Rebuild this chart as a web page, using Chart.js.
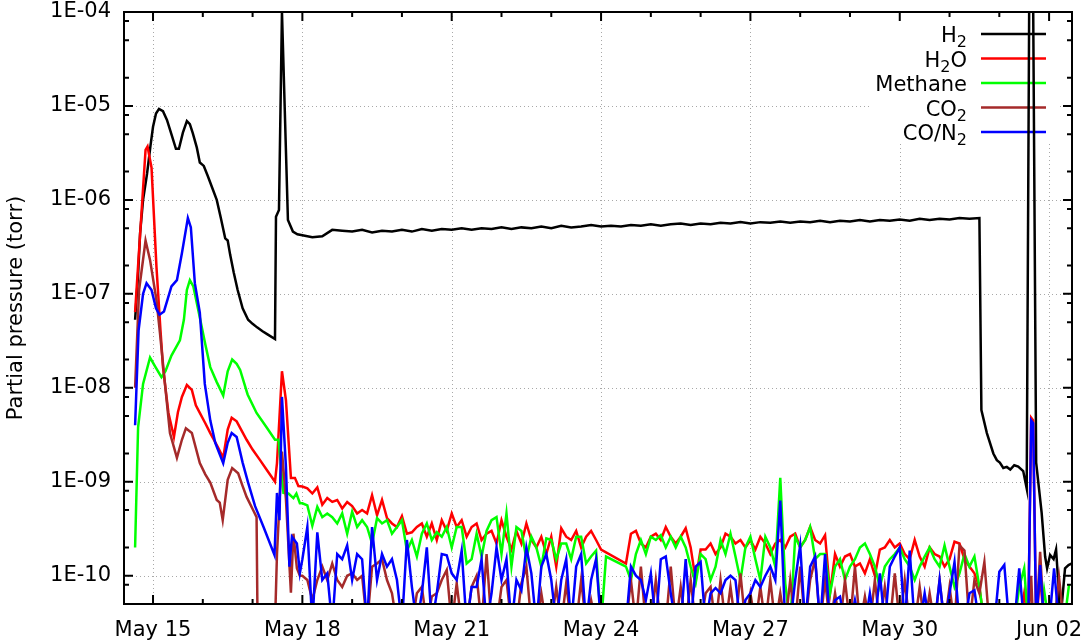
<!DOCTYPE html>
<html>
<head>
<meta charset="utf-8">
<script src="https://cdn.jsdelivr.net/npm/chart.js@4/dist/chart.umd.min.js"></script>
<style>
  html, body { margin: 0; padding: 0; background: #fff; }
</style>
</head>
<body>
<canvas id="chart" width="1088" height="644"></canvas>
<script>
// Days are counted from May 15 00:00
const xTickDays = [0, 3, 6, 9, 12, 15, 18];
const xTickLabels = ['May 15', 'May 18', 'May 21', 'May 24', 'May 27', 'May 30', 'Jun 02'];
const yTickValues = [1e-10, 1e-9, 1e-8, 1e-7, 1e-6, 1e-5, 1e-4];
const yTickLabels = ['1E-10', '1E-09', '1E-08', '1E-07', '1E-06', '1E-05', '1E-04'];
const yMinorSteps = [2, 5, 8];

const legendLabels = ['H_2', 'H_2O', 'Methane', 'CO_2', 'CO/N_2'];
const seriesColors = ['#000000', '#ff0000', '#00ff00', '#a52a2a', '#0000ff'];

// --- pump-down / bake-out (torr) ---
const h2EarlyDays = [-0.36, -0.3, -0.26, -0.2, -0.12, -0.05, 0.0, 0.06, 0.12, 0.2, 0.28, 0.38, 0.46, 0.52, 0.6, 0.68, 0.74, 0.8, 0.88, 0.94, 1.02, 1.1, 1.2, 1.28, 1.36, 1.45, 1.5, 1.55, 1.62, 1.7, 1.8, 1.91, 2.0, 2.09, 2.2, 2.3, 2.45, 2.47, 2.53, 2.59, 2.71, 2.81, 2.9];
const h2EarlyValues = [5.3e-8, 1.6e-7, 4.4e-7, 1.0e-6, 1.9e-6, 3.8e-6, 6.0e-6, 8.3e-6, 9.3e-6, 8.8e-6, 7.1e-6, 4.8e-6, 3.5e-6, 3.5e-6, 5.2e-6, 6.9e-6, 6.4e-6, 5.1e-6, 3.6e-6, 2.5e-6, 2.3e-6, 1.8e-6, 1.3e-6, 1.0e-6, 6.5e-7, 3.9e-7, 3.7e-7, 2.6e-7, 1.7e-7, 1.1e-7, 7.0e-8, 5.3e-8, 4.8e-8, 4.4e-8, 4.0e-8, 3.7e-8, 3.3e-8, 6.6e-7, 7.8e-7, 1.0e-4, 6.1e-7, 4.6e-7, 4.3e-7];

const h2oEarlyDays = [-0.36, -0.15, -0.11, -0.03, 0.07, 0.15, 0.2, 0.31, 0.42, 0.5, 0.58, 0.68, 0.78, 0.86, 0.94, 1.05, 1.15, 1.31, 1.41, 1.5, 1.58, 1.68, 1.78, 1.88, 2.0, 2.15, 2.3, 2.45, 2.49, 2.59, 2.67, 2.77, 2.85, 2.92];
const h2oEarlyValues = [6.4e-8, 3.4e-6, 3.7e-6, 2.2e-6, 1.9e-7, 4.1e-8, 1.66e-8, 5.4e-9, 3.0e-9, 5.5e-9, 8.0e-9, 1.07e-8, 9.5e-9, 6.5e-9, 5.4e-9, 4.2e-9, 3.3e-9, 2.3e-9, 1.8e-9, 3.6e-9, 4.8e-9, 4.4e-9, 3.5e-9, 2.8e-9, 2.2e-9, 1.7e-9, 1.3e-9, 1.0e-9, 1.58e-9, 1.5e-8, 7.4e-9, 1.1e-9, 1.1e-9, 9.0e-10];

const methaneEarlyDays = [-0.36, -0.3, -0.2, -0.06, 0.05, 0.17, 0.25, 0.37, 0.54, 0.62, 0.68, 0.74, 0.81, 0.94, 1.05, 1.15, 1.28, 1.41, 1.5, 1.59, 1.68, 1.75, 1.9, 2.08, 2.28, 2.45, 2.52, 2.62, 2.72, 2.82, 2.88, 2.95];
const methaneEarlyValues = [2.0e-10, 3.8e-9, 1.1e-8, 2.1e-8, 1.66e-8, 1.3e-8, 1.5e-8, 2.2e-8, 3.2e-8, 5.3e-8, 1.1e-7, 1.4e-7, 1.2e-7, 5.6e-8, 2.9e-8, 1.66e-8, 1.15e-8, 8.3e-9, 1.5e-8, 2.0e-8, 1.8e-8, 1.55e-8, 8.5e-9, 5.4e-9, 3.8e-9, 2.8e-9, 2.8e-9, 7.6e-10, 7.5e-10, 6.7e-10, 7.5e-10, 5.9e-10];

const co2EarlyDays = [-0.36, -0.28, -0.15, -0.06, 0.07, 0.14, 0.24, 0.34, 0.48, 0.58, 0.66, 0.78, 0.94, 1.05, 1.15, 1.28, 1.34, 1.4, 1.5, 1.59, 1.71, 1.8, 1.88, 2.01, 2.08, 2.1, 2.45, 2.49, 2.59, 2.67, 2.77, 2.82, 2.89, 2.95];
const co2EarlyValues = [1.0e-8, 1.1e-7, 3.7e-7, 2.3e-7, 8.5e-8, 3.8e-8, 1.1e-8, 3.3e-9, 1.8e-9, 2.8e-9, 3.7e-9, 3.3e-9, 1.58e-9, 1.2e-9, 9.8e-10, 6.4e-10, 6.0e-10, 3.9e-10, 1.05e-9, 1.4e-9, 1.23e-9, 9.0e-10, 6.9e-10, 5.0e-10, 4.2e-10, 3e-11, 3e-11, 1.7e-10, 2.1e-9, 6.5e-10, 6.6e-11, 2.8e-10, 1.2e-10, 1.0e-10];

const coEarlyDays = [-0.36, -0.29, -0.2, -0.13, -0.03, 0.06, 0.13, 0.22, 0.3, 0.37, 0.48, 0.58, 0.7, 0.76, 0.84, 0.94, 1.04, 1.15, 1.25, 1.41, 1.5, 1.58, 1.68, 1.8, 1.91, 2.05, 2.22, 2.44, 2.49, 2.54, 2.59, 2.67, 2.74, 2.79, 2.89, 2.95];
const coEarlyValues = [4.0e-9, 4.1e-8, 1.0e-7, 1.3e-7, 1.1e-7, 7.0e-8, 6.0e-8, 6.5e-8, 9.0e-8, 1.2e-7, 1.4e-7, 2.7e-7, 6.4e-7, 5.1e-7, 1.3e-7, 6.3e-8, 1.1e-8, 4.5e-9, 2.6e-9, 1.58e-9, 2.6e-9, 3.3e-9, 3.0e-9, 1.6e-9, 9.8e-10, 5.5e-10, 3.3e-10, 1.66e-10, 7.6e-10, 3.9e-10, 8.0e-9, 1.44e-9, 1.25e-10, 2.6e-10, 2.2e-10, 1.07e-10];

// --- H2 plateau, one reading every 0.2 day from day 3.0 (units of 1e-7 torr) ---
const h2Plateau = [
  4.2, 4.0, 4.1, 4.8, 4.7,  4.6, 4.8, 4.5, 4.7, 4.6,
  4.8, 4.6, 4.9, 4.7, 4.9,  4.8, 5.0, 4.8, 5.0, 4.9,
  5.1, 4.9, 5.1, 5.0, 5.2,  5.0, 5.3, 5.1, 5.2, 5.4,
  5.2, 5.3, 5.2, 5.4, 5.3,  5.5, 5.3, 5.5, 5.6, 5.4,
  5.6, 5.5, 5.7, 5.6, 5.8,  5.6, 5.8, 5.7, 5.9, 5.7,
  5.9, 5.8, 6.0, 5.8, 6.0,  5.9, 6.1, 5.9, 6.1, 6.0,
  6.2, 6.0, 6.3, 6.1, 6.3,  6.2, 6.4, 6.3, 6.4
];

// --- background readings, one every 0.1 day from day 3.0 to 16.9 (units of 1e-10 torr) ---
// 0.3 = below the plotted range, null = no reading
const h2oNoise = [
  8.9, 8.5, 7.5, 8.7, 5.7, 6.7, 6.1, 6.4, 5.2, 6.1,
  5.5, 4.6, 5.0, 4.6, 7.2, 4.4, 6.4, 4.1, 3.6, 3.3,
  4.3, 2.8, 2.9, 3.3, 3.6, 2.6, 3.6, 2.4, 3.9, 3.0,
  4.6, 3.3, 3.9, 2.6, 3.3, 3.6, 2.4, 2.8, 3.0, 2.2,
  3.9, 2.6, 1.9, 3.0, 2.2, 3.6, 2.4, 2.0, 2.6, 1.7,
  2.6, 1.25, 3.2, 2.6, 2.4, 3.0, 2.0, 2.6, 3.0, 2.4,
  1.9, null, null, null, null, 1.35, 2.8, 3.0, 2.2, 2.0,
  2.6, 2.8, 2.4, 3.3, 2.6, 2.2, 2.6, 3.2, 2.0, 0.9,
  1.9, 1.9, 2.2, 1.7, 2.0, 2.8, 2.6, 2.2, 2.4, 2.0,
  2.4, 1.9, 2.6, 2.2, 1.7, 2.2, 2.4, 2.0, 2.6, 2.8,
  2.0, 2.4, 3.3, 2.4, 2.2, 2.7, 0.65, 1.7, 1.25, 1.6,
  1.7, 1.25, 1.35, 1.06, 1.5, 1.0, 1.9, 2.0, 2.4, 2.0,
  2.2, 1.7, 1.5, 2.4, 1.6, 1.25, 2.0, 1.7, 1.6, 1.25,
  1.5, 2.3, 2.2, 1.5, 1.25, 1.06, 0.76, 0.3, 0.3, 0.3
];
const methaneNoise = [
  5.9, 5.6, 3.4, 5.4, 4.2, 4.6, 4.2, 3.6, 4.6, 2.8,
  4.8, 3.3, 3.9, 3.3, 2.2, 4.1, 3.6, 3.9, 2.8, 3.3,
  3.9, 1.85, 2.4, 1.6, 2.8, 3.6, 2.4, 2.9, 2.6, 3.3,
  2.0, 3.3, 3.3, 1.35, 1.5, 2.8, 1.6, 3.0, 3.9, 4.2,
  1.7, 4.6, 1.25, 3.3, 3.0, 1.5, 2.6, 2.0, 1.25, 2.5,
  2.4, 1.5, 2.2, 2.2, 1.5, 2.6, 2.6, 1.35, 1.6, 1.85,
  0.3, 1.6, null, null, null, 1.25, 0.9, 1.7, 2.4, 1.7,
  2.6, 2.4, 2.7, 2.0, 2.6, 2.0, 2.6, 2.0, 1.25, 0.83,
  1.7, 1.5, 0.9, 1.25, 2.4, 1.7, 2.8, 1.6, 0.9, 2.0,
  2.6, 1.5, 0.9, 2.6, 2.0, 1.25, 11, 0.83, 0.3, 2.6,
  2.0, 2.4, 3.3, 1.5, 1.7, 1.7, 0.65, 1.25, 1.5, 0.9,
  1.25, 1.5, 2.0, 2.2, 1.7, 1.25, 0.76, 1.25, 1.5, 1.7,
  2.0, 1.5, 1.25, 0.9, 1.25, 1.6, 2.0, 1.5, 1.25, 2.1,
  1.25, 0.76, 1.06, 1.7, 1.25, 1.6, 0.76, 0.3, 0.3, 0.3
];
const co2Noise = [
  1.0, 0.9, 0.55, 0.9, 1.25, 0.9, 1.35, 0.9, 0.76, 1.0,
  1.06, 0.9, 1.0, 0.3, 1.25, 1.35, 1.5, 0.9, 0.65, 0.3,
  0.3, 0.3, 0.3, 0.65, 0.76, 0.3, 0.6, 0.65, 0.9, 1.15,
  0.3, 0.83, 0.3, 0.3, 0.76, 1.0, 0.3, 1.7, 0.3, 0.3,
  0.76, 0.9, 0.3, 0.3, 0.83, 1.25, 0.3, 0.3, 0.65, 0.3,
  0.3, 0.76, 0.3, 0.83, 0.3, 0.3, 0.9, 0.3, 0.55, 0.3,
  0.3, null, null, null, null, 0.3, 0.9, 0.3, 1.25, 0.3,
  0.3, 0.9, 0.3, 0.3, 1.25, 0.3, 0.76, 0.3, 0.9, 0.3,
  0.3, 0.65, 0.76, 0.3, 0.9, 0.3, 0.76, 0.3, 1.06, 0.3,
  0.65, 0.3, 0.76, 0.3, 0.9, 0.3, 0.65, 0.3, 0.9, 0.3,
  1.25, 0.3, 0.9, 1.5, 0.3, 0.9, 0.3, 0.65, 0.3, 0.9,
  0.3, 1.25, 0.3, 0.6, 0.3, 0.9, 0.3, 0.76, 0.3, 1.06,
  0.3, 0.9, 0.3, 0.3, 0.76, 0.3, 0.65, 0.3, 0.9, 0.3,
  0.76, 0.3, 2.1, 1.85, 0.3, 0.9, 0.65, 1.4, 0.3, 0.3
];
const coNoise = [
  1.5, 3.3, 0.3, 2.9, 0.9, 1.06, 0.3, 1.7, 1.5, 2.1,
  0.9, 1.7, 1.5, 0.3, 3.3, 0.9, 1.7, 1.25, 1.5, 0.9,
  0.3, 2.4, 0.76, 0.3, 0.65, 2.0, 0.3, 0.65, 1.7, 1.65,
  1.06, 0.9, 1.85, 0.3, 0.76, 0.76, 1.5, 0.3, 0.65, 2.0,
  0.9, 1.5, 0.3, 0.9, 0.7, 2.0, 1.06, 0.3, 1.25, 1.7,
  0.9, 0.3, 0.9, 1.5, 0.3, 1.25, 1.7, 0.3, 0.9, 1.5,
  0.3, null, null, null, null, 0.3, 1.25, 1.0, 0.9, 0.55,
  1.06, 0.3, 1.5, 1.6, 0.65, 0.3, 0.3, 1.5, 0.3, 1.25,
  1.4, 0.3, 0.65, 0.74, 0.65, 0.9, 1.0, 0.9, 0.3, 0.55,
  0.65, 0.9, 0.76, 1.0, 1.25, 0.9, 6.3, 0.3, 0.3, 0.9,
  2.1, 0.3, 1.25, 1.6, 0.3, 1.7, 0.3, 0.55, 0.6, 0.3,
  0.3, 0.55, 0.3, 0.3, 0.65, 0.3, 1.06, 0.3, 1.25, 1.6,
  2.0, 0.3, 1.85, 0.3, 0.3, 0.65, 0.3, 0.3, 0.9, 0.3,
  0.65, 1.4, 0.3, 0.3, 0.65, 0.7, 0.3, 0.3, 0.3, 0.3
];

// --- vent and second pump-down ---
const h2LateDays = [16.64, 16.75, 16.88, 16.95, 17.01, 17.08, 17.15, 17.22, 17.3, 17.38, 17.48, 17.55, 17.6, 17.68, 17.74, 17.85, 17.92, 17.96, 18.02, 18.09, 18.14, 18.19, 18.22, 18.32, 18.39, 18.46];
const h2LateValues = [5.8e-9, 3.3e-9, 2.0e-9, 1.7e-9, 1.6e-9, 1.4e-9, 1.44e-9, 1.35e-9, 1.5e-9, 1.45e-9, 1.3e-9, 8.5e-10, 1.2e-4, 1.2e-4, 1.6e-9, 4.7e-10, 1.6e-10, 1.2e-10, 1.66e-10, 1.5e-10, 1.9e-10, 7.6e-11, 3e-11, 1.2e-10, 1.3e-10, 1.35e-10];

// units of 1e-10 torr
const lateDays = [17.0, 17.1, 17.2, 17.3, 17.4, 17.5, 17.58, 17.64, 17.68, 17.74, 17.82, 17.9, 18.0, 18.1, 18.2, 18.3, 18.4];
const h2oLate = [0.3, 0.3, 0.3, 0.3, 0.3, 0.65, 0.3, 48, 45, 0.3, 1.0, 0.3, 0.3, 0.3, 0.3, 0.3, 0.3];
const methaneLate = [0.3, 0.3, 0.3, 0.3, 0.76, 1.2, 0.3, 0.3, 0.3, 0.3, 0.3, 0.7, 0.3, 0.3, 0.3, 0.3, 0.8];
const co2Late = [0.3, 0.3, 0.3, 0.3, 0.3, 0.3, 0.3, 1.0, 0.3, 0.3, 1.8, 0.3, 0.3, 0.3, 0.95, 0.3, 0.3];
const coLate = [1.1, 1.3, 0.3, 0.3, 1.2, 0.3, 0.3, 45, 42, 0.3, 1.3, 0.3, 0.3, 1.2, 0.3, 0.3, 0.3];

// sampling times of the logged readings
const noiseDays = h2oNoise.map((_, i) => +(3 + i * 0.1).toFixed(2));
const plateauDays = h2Plateau.map((_, i) => +(3 + i * 0.2).toFixed(2));

function joinSeries(parts) {
    const pts = [];
    parts.forEach(([days, vals, unit]) => {
        days.forEach((d, i) => {
            pts.push({ x: d, y: vals[i] === null ? null : vals[i] * unit });
        });
    });
    return pts;
}

const seriesData = [
    joinSeries([[h2EarlyDays, h2EarlyValues, 1], [plateauDays, h2Plateau, 1e-7], [h2LateDays, h2LateValues, 1]]),
    joinSeries([[h2oEarlyDays, h2oEarlyValues, 1], [noiseDays, h2oNoise, 1e-10], [lateDays, h2oLate, 1e-10]]),
    joinSeries([[methaneEarlyDays, methaneEarlyValues, 1], [noiseDays, methaneNoise, 1e-10], [lateDays, methaneLate, 1e-10]]),
    joinSeries([[co2EarlyDays, co2EarlyValues, 1], [noiseDays, co2Noise, 1e-10], [lateDays, co2Late, 1e-10]]),
    joinSeries([[coEarlyDays, coEarlyValues, 1], [noiseDays, coNoise, 1e-10], [lateDays, coLate, 1e-10]])
];

const FONT = "'DejaVu Sans', sans-serif";
const LINE_W = 2.5;

// gnuplot-like frame: dotted grid, key, inward ticks on all four sides
const gnuplotFrame = {
    id: 'gnuplotFrame',
    beforeDatasetsDraw(chart) {
        const { ctx, chartArea: a, scales: { x, y } } = chart;
        ctx.save();
        ctx.strokeStyle = '#a8a8a8';
        ctx.lineWidth = 1;
        ctx.setLineDash([1, 3]);
        ctx.beginPath();
        xTickDays.forEach(d => {
            const px = Math.round(x.getPixelForValue(d)) + 0.5;
            ctx.moveTo(px, a.top); ctx.lineTo(px, a.bottom);
        });
        yTickValues.forEach(v => {
            const py = Math.round(y.getPixelForValue(v)) + 0.5;
            ctx.moveTo(a.left, py); ctx.lineTo(a.right, py);
        });
        ctx.stroke();
        ctx.setLineDash([]);

        // key
        ctx.fillStyle = '#fff';
        ctx.fillRect(872, a.top + 1, 188, 131);
        legendLabels.forEach((label, i) => {
            const ly = 34 + i * 24.5;
            drawRichText(ctx, label, 967, ly + 8);
            ctx.strokeStyle = seriesColors[i];
            ctx.lineWidth = LINE_W;
            ctx.beginPath();
            ctx.moveTo(981, ly); ctx.lineTo(1046, ly);
            ctx.stroke();
        });
        ctx.restore();
    },
    afterDatasetsDraw(chart) {
        const { ctx, chartArea: a, scales: { x, y } } = chart;
        ctx.save();
        ctx.strokeStyle = '#000';
        ctx.lineWidth = 2;
        ctx.beginPath();
        // x ticks, one a day, long every third day
        for (let d = Math.ceil(x.min); d <= x.max; d++) {
            const px = x.getPixelForValue(d);
            const len = xTickDays.includes(d) ? 9 : 5;
            ctx.moveTo(px, a.bottom); ctx.lineTo(px, a.bottom - len);
            ctx.moveTo(px, a.top); ctx.lineTo(px, a.top + len);
        }
        // y ticks, decades long, 2/5/8 short
        for (let e = -11; e <= -4; e++) {
            const mults = [1].concat(yMinorSteps);
            mults.forEach(m => {
                const v = m * Math.pow(10, e);
                if (v < y.min * 0.999 || v > y.max * 1.001) return;
                const py = y.getPixelForValue(v);
                const len = m === 1 ? 9 : 5;
                ctx.moveTo(a.left, py); ctx.lineTo(a.left + len, py);
                ctx.moveTo(a.right, py); ctx.lineTo(a.right - len, py);
            });
        }
        ctx.stroke();
        ctx.strokeRect(a.left, a.top, a.right - a.left, a.bottom - a.top);
        ctx.restore();
    }
};

// text with gnuplot-style "_x" subscripts, right aligned
function drawRichText(ctx, label, xRight, baseline) {
    const parts = [];
    for (let i = 0; i < label.length; i++) {
        if (label[i] === '_' && i + 1 < label.length) {
            parts.push({ t: label[i + 1], sub: true });
            i++;
        } else {
            parts.push({ t: label[i], sub: false });
        }
    }
    let total = 0;
    parts.forEach(p => {
        ctx.font = (p.sub ? 16 : 21) + 'px ' + FONT;
        p.w = ctx.measureText(p.t).width;
        total += p.w;
    });
    let cx = xRight - total;
    ctx.fillStyle = '#000';
    ctx.textAlign = 'left';
    ctx.textBaseline = 'alphabetic';
    parts.forEach(p => {
        ctx.font = (p.sub ? 16 : 21) + 'px ' + FONT;
        ctx.fillText(p.t, cx, baseline + (p.sub ? 5 : 0));
        cx += p.w;
    });
}

const ctx = document.getElementById('chart').getContext('2d');
new Chart(ctx, {
    type: 'line',
    data: {
        datasets: legendLabels.map((label, i) => ({
            label: label.replace(/_/g, ''),
            data: seriesData[i],
            borderColor: seriesColors[i],
            backgroundColor: seriesColors[i],
            borderWidth: LINE_W,
            pointRadius: 0,
            tension: 0,
            spanGaps: true,
            order: legendLabels.length - i
        }))
    },
    options: {
        responsive: false,
        animation: false,
        layout: { padding: { top: 12, right: 16, left: 0, bottom: 0 } },
        plugins: {
            legend: { display: false },
            tooltip: { enabled: false }
        },
        scales: {
            x: {
                type: 'linear',
                min: -0.583,
                max: 18.46,
                grid: { display: false, drawTicks: false },
                border: { display: false },
                afterBuildTicks: s => { s.ticks = xTickDays.map(v => ({ value: v })); },
                afterFit: s => { s.height = 40; s.paddingLeft = 0; s.paddingRight = 0; },
                ticks: {
                    autoSkip: false,
                    maxRotation: 0,
                    padding: 14,
                    color: '#000',
                    font: { family: FONT, size: 21 },
                    callback: (v, i) => xTickLabels[i]
                }
            },
            y: {
                type: 'logarithmic',
                min: 5e-11,
                max: 1e-4,
                grid: { display: false, drawTicks: false },
                border: { display: false },
                afterBuildTicks: s => { s.ticks = yTickValues.map(v => ({ value: v })); },
                afterFit: s => { s.width = 124; s.paddingTop = 0; s.paddingBottom = 0; },
                ticks: {
                    autoSkip: false,
                    padding: 13,
                    color: '#000',
                    font: { family: FONT, size: 21 },
                    callback: (v, i) => yTickLabels[i]
                },
                title: {
                    display: true,
                    text: 'Partial pressure (torr)',
                    color: '#000',
                    font: { family: FONT, size: 21 },
                    padding: { top: 4, bottom: 0 }
                }
            }
        }
    },
    plugins: [gnuplotFrame]
});
</script>
</body>
</html>
